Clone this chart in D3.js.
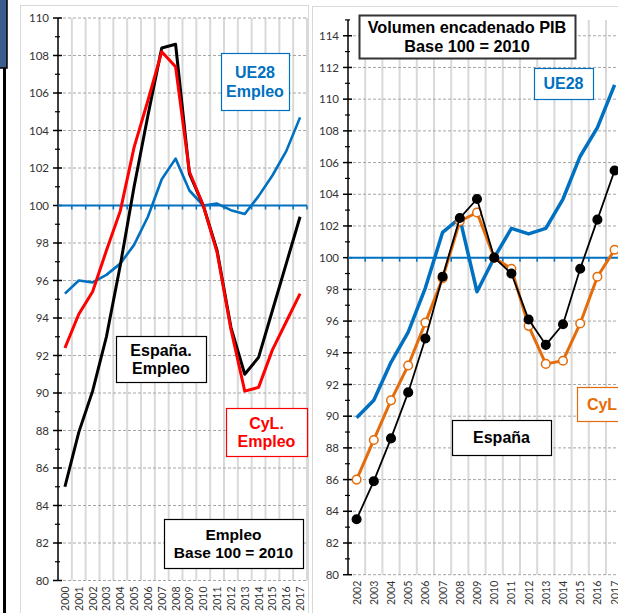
<!DOCTYPE html>
<html><head><meta charset="utf-8">
<script src="https://cdn.jsdelivr.net/npm/d3@7"></script>
<style>
html,body{margin:0;padding:0;background:#fff;}
svg{display:block;}
text{font-family:"Liberation Sans",Arial,sans-serif;}
.tick-lbl{font-family:Lato,"Liberation Sans",sans-serif;fill:#333;}
</style></head>
<body>
<script>
// ---------- DATA ----------
const yearsEmp = d3.range(2000, 2018);
const espanaEmpleo = [85.0, 87.9, 90.1, 93.0, 96.8, 101.0, 104.8, 108.4, 108.6, 101.7, 100.0, 97.6, 93.5, 91.0, 91.9, 94.4, 96.9, 99.4];
const cylEmpleo    = [92.4, 94.2, 95.4, 97.6, 99.7, 103.1, 105.6, 108.2, 107.4, 101.8, 100.0, 97.5, 93.4, 90.1, 90.3, 92.3, 93.8, 95.3];
const ue28Empleo   = [95.3, 96.0, 95.9, 96.3, 96.9, 97.9, 99.4, 101.4, 102.5, 100.8, 100.0, 100.1, 99.75, 99.55, 100.5, 101.6, 102.9, 104.7];
const empTicks = d3.range(80, 111, 2);

const yearsPib = d3.range(2002, 2018);
const espanaPib = [83.5, 85.9, 88.6, 91.5, 94.9, 98.8, 102.5, 103.7, 100.0, 99.0, 96.1, 94.5, 95.8, 99.3, 102.4, 105.5];
const cylPib    = [86.0, 88.5, 91.0, 93.2, 95.9, 98.7, 102.3, 102.85, 100.0, 99.3, 95.7, 93.3, 93.5, 95.85, 98.8, 100.5];
const ue28Pib   = [89.9, 91.0, 93.4, 95.3, 98.1, 101.6, 102.5, 97.85, 100.0, 101.85, 101.5, 101.85, 103.7, 106.4, 108.2, 110.9];
const pibTicks = d3.range(80, 115, 2);

const C = {blue:"#0070C0", red:"#FF0000", black:"#000000", orange:"#E46C0A", grid:"#D9D9D9", dash:"#A6A6A6"};

const svg = d3.select("body").append("svg").attr("width", 618).attr("height", 613);

// left decorative remnants
svg.append("rect").attr("x", -2).attr("y", -2).attr("width", 9).attr("height", 70)
  .attr("fill", "#3B5E8E").attr("stroke", "#000").attr("stroke-width", 1.5);
svg.append("line").attr("x1", 4.5).attr("x2", 4.5).attr("y1", 68).attr("y2", 613)
  .attr("stroke", "#000").attr("stroke-width", 3);

// panel borders
svg.append("rect").attr("x", 20.5).attr("y", 5.5).attr("width", 288).attr("height", 620)
  .attr("fill", "none").attr("stroke", "#D9D9D9");
svg.append("rect").attr("x", 312.5).attr("y", 6.5).attr("width", 320).attr("height", 620)
  .attr("fill", "none").attr("stroke", "#D9D9D9");

function panel(cfg) {
  const g = svg.append("g");
  const x = d3.scaleBand().domain(cfg.years).range([cfg.x0, cfg.x1]).padding(0);
  const y = d3.scaleLinear().domain(cfg.ydom).range([cfg.yb, cfg.yt]);
  const bw = x.bandwidth();
  const cx = d => x(d) + bw / 2;
  const yTop = y(cfg.ydom[1]), yBot = y(cfg.ydom[0]);

  // vertical gridlines at band boundaries
  const bounds = cfg.years.slice(1).map(d => x(d)).concat([cfg.x1]);
  g.append("g").selectAll("line").data(bounds).join("line")
    .attr("x1", d => d).attr("x2", d => d).attr("y1", yTop).attr("y2", yBot)
    .attr("stroke", C.grid).attr("stroke-width", 2);
  // horizontal dashed gridlines
  g.append("g").selectAll("line").data(cfg.ticks.filter(t => t !== 100)).join("line")
    .attr("x1", cfg.x0).attr("x2", cfg.x1).attr("y1", d => y(d)).attr("y2", d => y(d))
    .attr("stroke", C.dash).attr("stroke-width", 1).attr("stroke-dasharray", "3,2");

  // y axis
  const ax = g.append("g").attr("transform", `translate(${cfg.x0},0)`)
    .call(d3.axisLeft(y).tickValues(cfg.ticks).tickSize(0).tickPadding(cfg.lblPad).tickFormat(d3.format("d")));
  ax.select(".domain").attr("stroke", "#000").attr("stroke-width", 1.5).attr("d", `M0,${yTop}V${yBot}`);
  ax.selectAll("text").attr("class", "tick-lbl").attr("font-size", 11.5).attr("fill", "#333");
  // major ticks crossing
  g.append("g").selectAll("line").data(cfg.ticks).join("line")
    .attr("x1", cfg.x0 - 5).attr("x2", cfg.x0 + 4).attr("y1", d => y(d)).attr("y2", d => y(d))
    .attr("stroke", "#000").attr("stroke-width", 1.5);
  const minor = d3.range(cfg.ydom[0] + 1, cfg.ydom[1] + 0.5, 2);
  g.append("g").selectAll("line").data(minor).join("line")
    .attr("x1", cfg.x0 - 3).attr("x2", cfg.x0 + 2).attr("y1", d => y(d)).attr("y2", d => y(d))
    .attr("stroke", "#000").attr("stroke-width", 1.2);

  // category axis at 100
  const y100 = y(100);
  g.append("line").attr("x1", cfg.x0).attr("x2", cfg.x1).attr("y1", y100).attr("y2", y100)
    .attr("stroke", C.blue).attr("stroke-width", 2);
  g.append("g").selectAll("line").data(bounds).join("line")
    .attr("x1", d => d).attr("x2", d => d).attr("y1", y100).attr("y2", y100 + 4)
    .attr("stroke", C.blue).attr("stroke-width", 1.5);

  // x labels at bottom
  g.append("g").selectAll("text").data(cfg.years).join("text")
    .attr("class", "tick-lbl").attr("font-size", 10.5)
    .attr("transform", d => `translate(${cx(d) + 4},${yBot + 6}) rotate(-90)`)
    .attr("text-anchor", "end").text(d => d);

  // series
  cfg.series.forEach(s => {
    const line = d3.line().x((d, i) => cx(cfg.years[i])).y(d => y(d));
    g.append("path").datum(s.values).attr("d", line).attr("fill", "none")
      .attr("stroke", s.color).attr("stroke-width", s.width).attr("stroke-linejoin", "round");
    if (s.marker) {
      g.append("g").selectAll("circle").data(s.values).join("circle")
        .attr("cx", (d, i) => cx(cfg.years[i])).attr("cy", d => y(d)).attr("r", s.r)
        .attr("fill", s.marker === "open" ? "#fff" : s.color)
        .attr("stroke", s.color).attr("stroke-width", 1.5);
    }
  });
  return g;
}

panel({
  years: yearsEmp, x0: 58, x1: 307, ydom: [80, 110], yb: 580.5, yt: 18, ticks: empTicks, lblPad: 9,
  series: [
    {values: ue28Empleo, color: C.blue, width: 2.6},
    {values: espanaEmpleo, color: C.black, width: 3},
    {values: cylEmpleo, color: C.red, width: 3}
  ]
});

panel({
  years: yearsPib, x0: 348, x1: 348 + 16 * 17.2, ydom: [80, 115], yb: 574.7, yt: 19.9, ticks: pibTicks, lblPad: 9,
  series: [
    {values: ue28Pib, color: C.blue, width: 3.5},
    {values: cylPib, color: C.orange, width: 3, marker: "open", r: 4.3},
    {values: espanaPib, color: C.black, width: 1.8, marker: "filled", r: 4.3}
  ]
});

// text boxes
function box(x, y, w, h, color, lines, fs, lh, sw) {
  const g = svg.append("g");
  g.append("rect").attr("x", x + 0.5).attr("y", y + 0.5).attr("width", w).attr("height", h)
    .attr("fill", "#fff").attr("stroke", color).attr("stroke-width", sw || 1.2);
  const n = lines.length;
  lines.forEach((t, i) => {
    g.append("text").attr("x", x + w / 2).attr("y", y + h / 2 + (i - (n - 1) / 2) * lh)
      .attr("dy", "0.36em").attr("text-anchor", "middle").attr("font-weight", "bold")
      .attr("font-size", fs).attr("fill", color === "#333" ? "#000" : color).text(t);
  });
}
box(221, 53, 68, 57, C.blue, ["UE28", "Empleo"], 16, 18.5);
box(116, 336, 90, 46, C.black, ["España.", "Empleo"], 16, 18);
box(226, 408, 81, 48, C.red, ["CyL.", "Empleo"], 16, 18.5);
box(164, 519, 139, 49, C.black, ["Empleo", "Base 100 = 2010"], 15.5, 17.5);

box(359, 15, 216, 43, "#333", ["Volumen encadenado PIB", "Base 100 = 2010"], 16.3, 19.5, 2);
box(534, 68, 59, 31, C.blue, ["UE28"], 16, 18);
box(452, 420, 99, 35, C.black, ["España"], 16, 18);
box(577, 387, 50, 34, C.orange, ["CyL"], 16, 18);
</script>
</body></html>
